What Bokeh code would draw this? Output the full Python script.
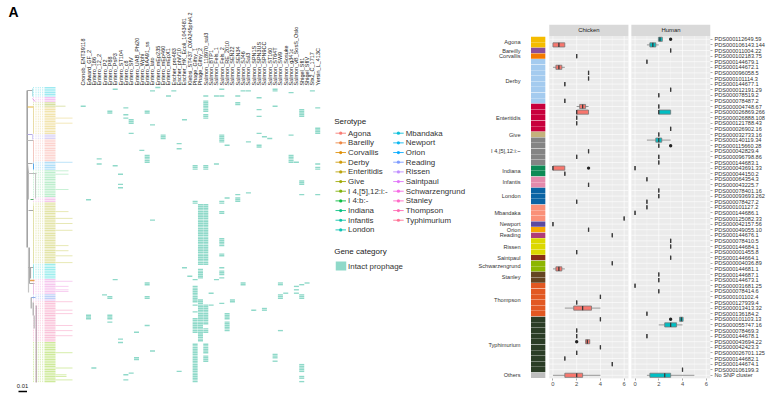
from math import pi
from bokeh.plotting import figure
from bokeh.layouts import row, column
from bokeh.models import Range1d, FixedTicker, Label, LinearAxis
from bokeh.core.properties import value
from bokeh.embed import file_html
from bokeh.resources import INLINE

FONT = "Liberation Sans"

# ---------- Panel A data ----------
phage_labels = ["Cronob_ENT39118","Edward_GF_2","Entero_186","Entero_12_2","Entero_P2","Entero_P88","Entero_PsP3",
 "Entero_ST104","Entero_c8","Entero_SfV","Entero_UAB_Phi20","Entero_Wphi","Entero_fiAA91_ss","Entero_lato",
 "Entero_mEp235","Entero_mEp460","Entero_mEpX1","Escher_pro483","Escher_phiV10","Escher_HK_Ecoli_1043481",
 "Klebsi_ST437_OXA245phi4.2","Phage_Gifsy_1","Phage_Gifsy_2","Salmon_118970_sal3","Salmon_BTP1","Salmon_Fels_1",
 "Salmon_Fels_2","Salmon_RE_2010","Salmon_SEN22","Salmon_SEN34","Salmon_SJ46","Salmon_Sal3","Salmon_SPN1S",
 "Salmon_SPN3US","Salmon_SPN9CC","Salmon_ST160","Salmon_ST64T","Salmon_SW9","Salmon_Sosuke","Salmon_g341c",
 "Salmon_vB_SosS_Oslo","Shigel_Sfl1","Shigel_SfIV","Stx2_C_1717","Yersin_L_413C"]

r = lambda a, b: list(range(a, b + 1))
prophage_rows = {
 0: [11], 1: [66, 134, 135, 136], 2: [165], 3: [42, 45], 4: [122], 5: [14, 15, 123, 124, 134, 135, 136, 138],
 6: [1, 46, 113], 7: [51, 57, 59, 148, 150], 8: [12, 16, 18, 169, 172], 9: [19, 20, 21, 27, 168],
 10: [144, 159, 160], 11: [37], 12: [14, 15, 40, 41, 42, 43, 44, 115, 116, 123, 124, 140], 13: [2, 22, 78, 155],
 14: [0], 15: [28, 29, 30], 16: [5], 17: [2], 18: [33, 36, 167], 19: [19, 106], 20: [111],
 21: [46, 47, 48, 67, 68, 113] + r(117, 126) + [128, 132] + r(136, 144) + r(151, 173),
 22: r(69, 104) + r(107, 112) + r(125, 149),
 23: [5, 8, 9, 10, 11, 12, 13, 14, 16, 17, 18, 46, 47, 48] + r(69, 104) + r(128, 139) + r(142, 144) + r(151, 156) + r(158, 161),
 24: [121, 128], 25: [5, 45, 113], 26: [1, 5, 28, 29, 30, 31, 32, 67, 68, 73, 74] + r(89, 93) + [98, 99, 106, 108, 109, 110, 112, 127],
 27: [34, 65, 133, 134, 135, 136, 138, 139, 140, 141, 142, 143], 28: [125, 126], 29: [5, 9, 10, 63, 65, 66, 67],
 30: [2, 115, 116], 31: [2, 32, 62], 32: [131], 33: [6, 13, 17, 27, 34, 35], 34: [29, 130, 131], 35: [30],
 36: [1, 2, 11, 157, 158, 159, 161], 37: [115, 116, 122, 123, 124, 143], 38: [121], 39: [3, 28, 40, 41, 42, 43, 44],
 40: [44, 117, 119, 121], 41: [13, 14, 15, 16, 17, 55, 56, 57, 63, 116, 122, 123, 124] + r(163, 167) + [170, 171, 173],
 42: [115], 43: [2], 44: [12, 24, 25, 26, 27, 45, 47, 48, 63]}

tip_start = [0, 6, 9, 12, 28, 31, 44, 49, 65, 68, 104, 113, 122, 125, 126, 150]
tip_end = [5, 8, 11, 27, 30, 43, 48, 64, 67, 103, 112, 121, 124, 125, 149, 173]
tip_colours = ["#8CE6EE", "#F2B8F0", "#CFD98F", "#F0DFA0", "#D4CBF5", "#FBCBC6", "#A4D9F6", "#B2EBC4", "#F3BEEA",
               "#DEDF98", "#8CEAEA", "#F5BEEB", "#B4C9F6", "#DDB8F5", "#F9BAD4", "#C6E68A"]
long_rows = [11, 18, 21, 44, 49, 51, 60, 73, 77, 80, 84, 93, 96, 99, 103, 114, 117, 119, 120, 126, 131, 133, 140,
             143, 146, 156, 165, 169, 170, 172]
long_ends = [65, 72, 72, 72, 68, 68, 68, 68, 72, 72, 72, 68, 68, 72, 72, 72, 68, 68, 68, 72, 72, 72, 72,
             72, 72, 72, 72, 66, 66, 72]
stripe_x = [32.5, 35, 37.3, 39.3, 41.7]

tree_x0 = [26.7, 28, 26.7, 32, 32, 27, 33, 27, 32, 27, 33, 27, 33, 27, 28, 28, 35, 30, 28, 33, 28, 30, 28, 33, 29, 29, 33, 29, 30.7, 30.7, 32.7, 33.7, 35.7]
tree_y0 = [90, 247, 90, 88, 98, 106.5, 106, 134, 134, 140, 140, 163, 163, 163, 173, 173, 173, 199, 210, 205, 267, 267, 267, 264, 280, 283, 283, 247, 297, 297, 302, 315, 305]
tree_x1 = [26.7, 28, 32, 32, 34.5, 33, 33, 32, 32, 33, 33, 32, 33, 28, 36, 28, 35, 33, 33, 33, 33, 30, 30, 33, 34, 34, 33, 29, 35, 30.7, 32.7, 33.7, 35.7]
tree_y1 = [247, 292, 90, 96, 101, 106.5, 133, 134, 139, 140, 162, 163, 169, 173, 173, 199, 198, 199, 210, 263, 267, 278, 267, 278, 280, 283, 294, 283, 297, 308, 315, 328, 382]
tree_col = ["#A3A3A3", "#C4C4C4", "#A8A8A8", "#9FD8E0", "#D88AD8", "#E8B840", "#E6D79A", "#B4ACE4", "#C9C2F0", "#BBBBBB",
            "#F0C0B8", "#AAAAAA", "#5AA8E8", "#AAAAAA", "#BBBBBB", "#BBBBBB", "#C6C6C6", "#55B06A", "#AAAAAA", "#DEDDA0",
            "#AAAAAA", "#A8A8A8", "#AAAAAA", "#8ADFE0", "#E8A050", "#AAAAAA", "#E6B8E0", "#AAAAAA", "#8FAEE8", "#A8A8A8",
            "#AAAAAA", "#C4C4C4", "#A88CA0"]
tree_w = [1.6, 1.2, 1, 0.8, 0.8, 1.2, 0.8, 1, 0.8, 1, 0.8, 1, 1, 1, 1, 1, 1, 1, 1, 0.8, 1, 1.2, 1, 0.8, 1.4, 1, 0.8, 1, 1, 1.2, 1.2, 1.4, 1]

serotypes = ["Agona","Bareilly","Corvallis","Derby","Enteritidis","Give","I 4,[5],12:i:-","I 4:b:-","Indiana","Infantis",
             "London","Mbandaka","Newport","Orion","Reading","Rissen","Saintpaul","Schwarzengrund","Stanley","Thompson","Typhimurium"]
legend_colours = ["#F8766D","#EC823C","#DE8C00","#CD9600","#B79F00","#9DA700","#7CAE00","#00BA38","#00BF7D","#00C1A3",
                  "#00C0AF","#00BCD8","#00B4EF","#00A9FF","#7997FF","#BB88FF","#DF70F8","#F564E3","#FF61C3","#FF64B0","#FF6C91"]

# ---------- Panel B data ----------
snp_clusters = ["PDS000112649.59","PDS000106143.144","PDS000011004.22","PDS000102183.75","PDS000144679.1","PDS000144672.1",
 "PDS000096058.5","PDS000101114.3","PDS000144677.1","PDS000012191.29","PDS000078519.2","PDS000078487.2","PDS000004748.67",
 "PDS000026869.266","PDS000026888.108","PDS000121788.43","PDS000026902.16","PDS000032733.16","PDS000140119.34",
 "PDS000115660.28","PDS000042829.4","PDS000096798.86","PDS000144683.1","PDS000043691.33","PDS000044150.2","PDS000064354.3",
 "PDS000043225.7","PDS000078401.16","PDS000093693.262","PDS000078427.2","PDS000101127.2","PDS000144686.1","PDS000125082.33",
 "PDS000042157.56","PDS000049055.10","PDS000144676.1","PDS000078410.5","PDS000144684.1","PDS000001455.8","PDS000144664.1",
 "PDS000004036.89","PDS000144681.1","PDS000144687.1","PDS000144673.1","PDS000031681.25","PDS000078414.6","PDS000101102.4",
 "PDS000127939.4","PDS000013413.32","PDS000136184.2","PDS000101103.13","PDS000055747.16","PDS000078469.3","PDS000144678.1",
 "PDS000043694.22","PDS000042423.3","PDS000026701.125","PDS000144682.1","PDS000144674.1","PDS000106199.3","No SNP cluster"]
strip_names = ["Agona","Bareilly","Corvallis","Derby","Enteritidis","Give","I 4,[5],12:i:~","Indiana","Infantis","London","Mbandaka",
               "Newport","Orion","Reading","Rissen","Saintpaul","Schwarzengrund","Stanley","Thompson","Typhimurium","Others"]
strip_counts = [2, 1, 1, 8, 5, 1, 5, 2, 2, 3, 3, 1, 1, 1, 3, 1, 2, 2, 6, 10, 1]
strip_colours = ["#F5BC00","#8B4F9A","#F47A00","#A4CBEF","#C8003C","#C4B27C","#848484","#0D8A55","#E48AAC","#0A64A4","#FA9078",
                 "#5B4AA0","#F7A600","#B03C78","#DCD800","#882D17","#8DB600","#654522","#E25822","#2B3D26","#BEBEBE"]

ch_rows = [2, 4, 6, 7, 8, 9, 12, 13, 14, 15, 16, 21, 22, 24, 25, 27, 30, 33, 34, 35, 36, 39, 41, 42, 47, 48, 49, 51, 53, 54, 55, 56, 57, 58, 59, 61]
ch_lo =  [0, 2, 0, 3, 3, 1, 1, 2, 2, 2, 2, 3, 2, 0, 1, 3, 2, 6, 0, 3, 5, 2, 5, 0, 4, 2, 1, 4, 2, 2, 2.75, 4, 2, 1, 5, 0]
ch_q1 =  [0, 2, 0.25, 3, 3, 1, 1, 2.25, 2, 2, 2, 3, 2, 0, 1, 3, 2, 6, 0, 3, 5, 2, 5, 0.25, 4, 2, 1.75, 4, 2, 2, 2.75, 4, 2, 1, 5, 1]
ch_med = [0.5, 2, 0.5, 3, 3, 1, 1, 2.5, 2, 2, 2, 3, 2, 0, 1, 3, 2, 6, 0, 3, 5, 2, 5, 0.5, 4, 2, 2.5, 4, 2, 2, 2.9, 4, 2, 1, 5, 2]
ch_q3 =  [1, 2, 0.75, 3, 3, 1, 1, 2.75, 3, 2, 2, 3, 2, 1, 1, 3, 2, 6, 0, 3, 5, 2, 5, 0.75, 4, 2, 3.25, 4, 2, 2, 3.1, 4, 2, 1, 5, 2.5]
ch_hi =  [1, 2, 1, 3, 3, 1, 1, 3, 3, 2, 2, 3, 2, 1, 1, 3, 2, 6, 0, 3, 5, 2, 5, 1, 4, 2, 4, 4, 2, 2, 3.1, 4, 2, 1, 5, 4]
ch_out_rows = [24, 55]
ch_out_vals = [3, 2]

hu_rows = [1, 2, 3, 5, 10, 11, 13, 14, 17, 18, 19, 20, 22, 23, 24, 26, 28, 29, 30, 31, 32, 37, 38, 40, 43, 44, 45, 46, 50, 51, 52, 54, 60, 61]
hu_lo =  [1.97, 1, 3, 1, 3, 2, 2, 2, 3, 2, 1, 2, 2, 2, 0, 1, 2, 2, 1, 1, 0, 3, 3, 3, 2, 2, 0, 2, 1, 3.75, 2, 1, 4, 1]
hu_q1 =  [1.97, 1.25, 3, 1, 3, 2, 2, 2, 3, 2, 1.75, 2, 2, 2, 0, 1, 2, 2, 1, 1, 0, 3, 3, 3, 2, 2, 0, 2, 1, 3.75, 2.5, 1, 4, 1.25]
hu_med = [2.1, 1.5, 3, 1, 3, 2, 2, 2, 3, 2, 2, 2, 2, 2, 0, 1, 2, 2, 1, 1, 0, 3, 3, 3, 2, 2, 0, 2, 1, 3.9, 3, 1, 4, 2.5]
hu_q3 =  [2.3, 1.75, 3, 1, 3, 2, 2, 3, 3, 2, 2.25, 2, 2, 2, 0, 1, 2, 2, 1, 1, 0, 3, 3, 3, 2, 2, 0, 2, 1, 4.05, 3.5, 1, 4, 3]
hu_hi =  [2.3, 2, 3, 1, 3, 2, 2, 3, 3, 2, 3, 2, 2, 2, 0, 1, 2, 2, 1, 1, 0, 3, 3, 3, 2, 2, 0, 2, 1, 4.05, 4, 1, 4, 5]
hu_out_rows = [1, 20, 51]
hu_out_vals = [3, 3, 3]

# ---------- Panel A figure: x in phage columns, y in genome rows ----------
WA, H = 475, 399
CX0, CP, RY0, RP = 82.7, 5.33, 87.0, 1.7
cx = lambda px: (px - CX0) / CP
ry = lambda py: (py - RY0) / RP

pa = figure(width=WA, height=H, output_backend="svg", toolbar_location=None, min_border=0,
            x_range=Range1d(cx(0), cx(WA)), y_range=Range1d(ry(H), ry(0)))
pa.axis.visible = False
pa.grid.visible = False
pa.outline_line_color = None

cell_x, cell_y = [], []
for c, rows in prophage_rows.items():
    for rw in rows:
        cell_x.append(c)
        cell_y.append(rw)
pa.rect(x=cell_x, y=cell_y, width=0.94, height=0.8, fill_color="#8FD9C9", line_color=None)

pa.text(x=list(range(len(phage_labels))), y=[ry(85)] * len(phage_labels), text=phage_labels, angle=pi / 2,
        text_align="left", text_baseline="middle", text_font=value(FONT), text_font_size=value("5.5px"), text_color="#222222")

row_col = {}
for s, e, c in zip(tip_start, tip_end, tip_colours):
    for i in range(s, e + 1):
        row_col[i] = c
tip_rows = sorted(row_col)
pa.segment(x0=[cx(44)] * len(tip_rows), x1=[cx(55)] * len(tip_rows), y0=tip_rows, y1=tip_rows,
           line_color=[row_col[i] for i in tip_rows], line_width=1.2, line_alpha=0.85)
pa.segment(x0=[cx(55)] * len(long_rows), x1=[cx(e) for e in long_ends], y0=long_rows, y1=long_rows,
           line_color=[row_col[i] for i in long_rows], line_width=0.9, line_alpha=0.8)
for sx in stripe_x:
    pa.segment(x0=[cx(sx)] * len(tip_rows), x1=[cx(sx + 1)] * len(tip_rows), y0=tip_rows, y1=tip_rows,
               line_color=[row_col[i] for i in tip_rows], line_width=0.9, line_alpha=0.8)

pa.segment(x0=[cx(v) for v in tree_x0], x1=[cx(v) for v in tree_x1], y0=[ry(v) for v in tree_y0], y1=[ry(v) for v in tree_y1],
           line_color=tree_col, line_width=tree_w)

pa.segment(x0=[cx(18)], x1=[cx(26.5)], y0=[ry(391)], y1=[ry(391)], line_color="#000000", line_width=1.6)
pa.text(x=[cx(22)], y=[ry(385.5)], text=["0.01"], text_align="center", text_baseline="middle",
        text_font=value(FONT), text_font_size=value("5.8px"), text_color="#222222")
pa.text(x=[cx(8)], y=[ry(11)], text=["A"], text_baseline="middle", text_font=value(FONT),
        text_font_size=value("14px"), text_font_style="bold", text_color="#000000")

lx, ly = [], []
n_first = 11
for i, s in enumerate(serotypes):
    col = 0 if i < n_first else 1
    j = i if i < n_first else i - n_first
    lx.append([335, 392.7][col])
    ly.append(132.7 + 9.67 * j)
pa.segment(x0=[cx(v) for v in lx], x1=[cx(v + 10.5) for v in lx], y0=[ry(v) for v in ly], y1=[ry(v) for v in ly],
           line_color=legend_colours, line_width=1.0, line_alpha=0.85)
pa.scatter(x=[cx(v + 5.2) for v in lx], y=[ry(v) for v in ly], size=3.2, fill_color=legend_colours,
           line_color=None, fill_alpha=0.9)
pa.text(x=[cx(v + 12.6) for v in lx], y=[ry(v) for v in ly], text=serotypes, text_baseline="middle",
        text_font=value(FONT), text_font_size=value("7.9px"), text_color="#333333")
pa.text(x=[cx(333.7), cx(333.7)], y=[ry(120.7), ry(250.7)], text=["Serotype", "Gene category"], text_baseline="middle",
        text_font=value(FONT), text_font_size=value("8px"), text_color="#222222")
pa.rect(x=[cx(340.5)], y=[ry(265.5)], width=10.5 / CP, height=9 / RP, fill_color="#8FD9C9", line_color=None)
pa.text(x=[cx(347.6)], y=[ry(265.5)], text=["Intact prophage"], text_baseline="middle",
        text_font=value(FONT), text_font_size=value("7.9px"), text_color="#333333")

# ---------- Panel B figure: x in prophage counts, y in SNP-cluster rows ----------
WB = 292
F_L, F_R, F_T, F_B = 528, 710, 24, 378
X_PX, HUM = 12.0, 83 / 12.0
YR0, YP = 38.8, 5.6
xb = lambda px: (px - 550.7) / X_PX
yb = lambda py: (py - YR0) / YP + 1
n_rows = len(snp_clusters)

pb = figure(width=WB, height=H, output_backend="svg", toolbar_location=None,
            min_border_left=F_L - WA, min_border_right=WA + WB - F_R,
            min_border_top=F_T, min_border_bottom=H - F_B,
            x_range=Range1d(xb(F_L), xb(F_R)), y_range=Range1d(yb(F_B), yb(F_T)), y_axis_location="right")
pb.grid.visible = False
pb.outline_line_color = None

P_L, P_R, R_T, R_B = -0.31, 6.36, 0.4, n_rows + 0.6
for off in (0, HUM):
    pb.quad(left=[P_L + off], right=[P_R + off], top=[R_T], bottom=[R_B], fill_color="#EBEBEB", line_color=None)
    pb.quad(left=[P_L + off], right=[P_R + off], top=[yb(F_T)], bottom=[R_T], fill_color="#D9D9D9", line_color=None)
    rows = list(range(1, n_rows + 1))
    pb.segment(x0=[P_L + off] * n_rows, x1=[P_R + off] * n_rows, y0=rows, y1=rows, line_color="#FFFFFF", line_width=0.6)
    pb.segment(x0=[v + off for v in (1, 3, 5)], x1=[v + off for v in (1, 3, 5)], y0=[R_T] * 3, y1=[R_B] * 3,
               line_color="#FFFFFF", line_width=0.3)
    pb.segment(x0=[v + off for v in (0, 2, 4, 6)], x1=[v + off for v in (0, 2, 4, 6)], y0=[R_T] * 4, y1=[R_B] * 4,
               line_color="#FFFFFF", line_width=0.6)

pb.text(x=[(P_L + P_R) / 2, (P_L + P_R) / 2 + HUM], y=[(yb(F_T) + R_T) / 2] * 2, text=["Chicken", "Human"],
        text_align="center", text_baseline="middle", text_font=value(FONT), text_font_size=value("5.9px"), text_color="#1A1A1A")

st_bot, st_top, st_col, tick_pos, tick_over = [], [], [], [], {}
pos = 1
for nm, n, c in zip(strip_names, strip_counts, strip_colours):
    for k in range(n):
        st_top.append(pos + k - 0.47)
        st_bot.append(pos + k + 0.47)
        st_col.append(c)
    mid = pos + (n - 1) / 2
    tick_pos.append(mid)
    tick_over[mid] = nm
    pos += n
pb.quad(left=[xb(528.5)] * n_rows, right=[xb(543)] * n_rows, top=st_top, bottom=st_bot, fill_color=st_col, line_color=None)

for rows_, lo, q1, med, q3, hi, o_r, o_v, off, fill in (
        (ch_rows, ch_lo, ch_q1, ch_med, ch_q3, ch_hi, ch_out_rows, ch_out_vals, 0, "#F8766D"),
        (hu_rows, hu_lo, hu_q1, hu_med, hu_q3, hu_hi, hu_out_rows, hu_out_vals, HUM, "#00BFC4")):
    pb.segment(x0=[v + off for v in lo], x1=[v + off for v in hi], y0=rows_, y1=rows_, line_color="#8A8A8A", line_width=0.9)
    pb.quad(left=[v + off for v in q1], right=[v + off for v in q3], top=[v - 0.37 for v in rows_], bottom=[v + 0.37 for v in rows_],
            fill_color=fill, line_color="#777777", line_width=0.8)
    pb.segment(x0=[v + off for v in med], x1=[v + off for v in med], y0=[v - 0.37 for v in rows_], y1=[v + 0.37 for v in rows_],
               line_color="#3A3A3A", line_width=1.3)
    pb.scatter(x=[v + off for v in o_v], y=o_r, size=3.4, fill_color="#222222", line_color=None)

yax = pb.yaxis[0]
yax.ticker = FixedTicker(ticks=list(range(1, n_rows + 1)))
yax.major_label_overrides = {i + 1: s for i, s in enumerate(snp_clusters)}
yax.major_label_text_font = FONT
yax.major_label_text_font_size = "5.6px"
yax.major_label_text_color = "#333333"
yax.major_tick_line_color = "#555555"
yax.major_tick_line_width = 0.5
yax.major_tick_in = 0
yax.major_tick_out = 2
yax.minor_tick_line_color = None
yax.axis_line_color = None
yax.major_label_standoff = 2

lax = LinearAxis(ticker=FixedTicker(ticks=tick_pos), major_label_overrides=tick_over, major_label_text_font=FONT,
                 major_label_text_font_size="5.6px", major_label_text_color="#333333", major_tick_line_color=None,
                 minor_tick_line_color=None, axis_line_color=None, major_label_standoff=4)
pb.add_layout(lax, "left")

xax = pb.xaxis[0]
xt = [0, 2, 4, 6]
xax.ticker = FixedTicker(ticks=xt + [v + HUM for v in xt])
xax.major_label_overrides = {**{v: str(v) for v in xt}, **{v + HUM: str(v) for v in xt}}
xax.major_label_text_font = FONT
xax.major_label_text_font_size = "5.8px"
xax.major_label_text_color = "#4D4D4D"
xax.major_tick_line_color = "#555555"
xax.major_tick_line_width = 0.5
xax.major_tick_in = 0
xax.major_tick_out = 2
xax.minor_tick_line_color = None
xax.axis_line_color = None
xax.major_label_standoff = 1

for txt, px, py, fs in (("Serotype", 526.5, 387, "7.8px"), ("Prophage", 630, 392, "8.6px"), ("SNP cluster", 734, 387, "7.8px")):
    pb.add_layout(Label(x=xb(px), y=yb(py), text=txt, text_align="center", text_baseline="middle",
                        text_font=FONT, text_font_size=fs, text_color="#222222"))
pb.add_layout(Label(x=xb(485), y=yb(11), text="B", text_baseline="middle", text_font=FONT,
                    text_font_size="14px", text_font_style="bold", text_color="#000000"))

page = row(column(pa), column(pb), spacing=0)
open("out.html", "w").write(file_html(page, INLINE))
